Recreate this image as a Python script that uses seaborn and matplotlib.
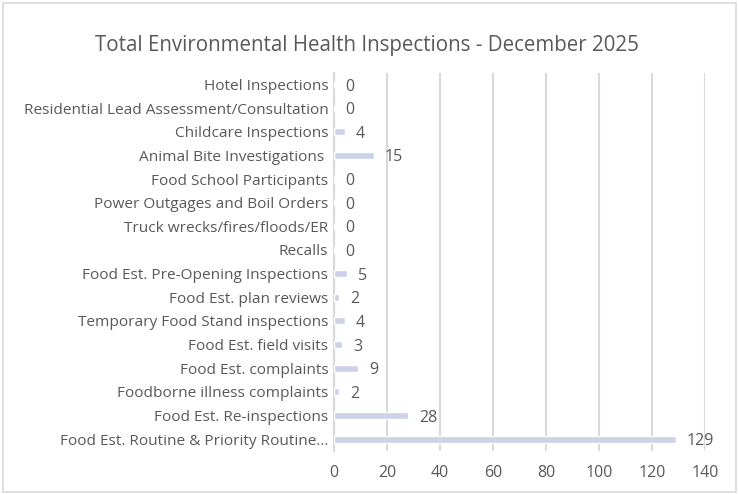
import matplotlib
matplotlib.use("Agg")
import matplotlib.pyplot as plt
import seaborn as sns
import pandas as pd
from matplotlib.patches import Rectangle

categories = [
    "Hotel Inspections",
    "Residential Lead Assessment/Consultation",
    "Childcare Inspections",
    "Animal Bite Investigations ",
    "Food School Participants",
    "Power Outgages and Boil Orders",
    "Truck wrecks/fires/floods/ER",
    "Recalls",
    "Food Est. Pre-Opening Inspections",
    "Food Est. plan reviews",
    "Temporary Food Stand inspections",
    "Food Est. field visits",
    "Food Est. complaints",
    "Foodborne illness complaints",
    "Food Est. Re-inspections",
    "Food Est. Routine & Priority Routine...",
]
values = [0, 0, 4, 15, 0, 0, 0, 0, 5, 2, 4, 3, 9, 2, 28, 129]
x_ticks = [0, 20, 40, 60, 80, 100, 120, 140]
title = "Total Environmental Health Inspections - December 2025"

df = pd.DataFrame({"category": categories, "value": values})

sns.set_theme(style="white")
plt.rcParams["font.family"] = ["Open Sans", "DejaVu Sans"]

text_color = "#595959"
bar_color = "#CDD2E8"
grid_color = "#D9D9D9"

fig = plt.figure(figsize=(7.39, 4.94), dpi=100)
ax = fig.add_axes([0.452, 0.087, 0.502, 0.766])

sns.barplot(data=df, y="category", x="value", orient="h", color=bar_color,
            width=0.3, saturation=1, ax=ax, zorder=3)

ax.set_xlim(0, 140)
ax.set_xticks(x_ticks)
ax.set_xticklabels([str(t) for t in x_ticks], fontsize=11.5, color=text_color)
ax.set_ylim(len(categories) - 0.5, -0.5)
ax.set_yticks(range(len(categories)))
ax.set_yticklabels(categories, fontsize=11.1, color=text_color)
ax.set_xlabel("")
ax.set_ylabel("")

for s in ["top", "right", "bottom"]:
    ax.spines[s].set_visible(False)
ax.spines["left"].set_color(grid_color)
ax.spines["left"].set_linewidth(1.5)
ax.spines["left"].set_zorder(2)

ax.xaxis.grid(True, color=grid_color, linewidth=1.5, zorder=0)
ax.set_axisbelow(True)
ax.tick_params(axis="y", length=0, pad=4)
ax.tick_params(axis="x", length=0, pad=10)

for i, v in enumerate(values):
    ax.annotate(str(v), xy=(v, i), xytext=(8, -1.5), textcoords="offset points",
                va="center", ha="left", fontsize=11.5, color=text_color)

fig.text(0.497, 0.907, title, ha="center", va="center", fontsize=14.8, color=text_color)

fig.patches.append(Rectangle((0.004, 0.004), 0.992, 0.99, transform=fig.transFigure,
                             fill=False, edgecolor="#D9D9D9", linewidth=1.2))

fig.savefig("out.png", dpi=100)
